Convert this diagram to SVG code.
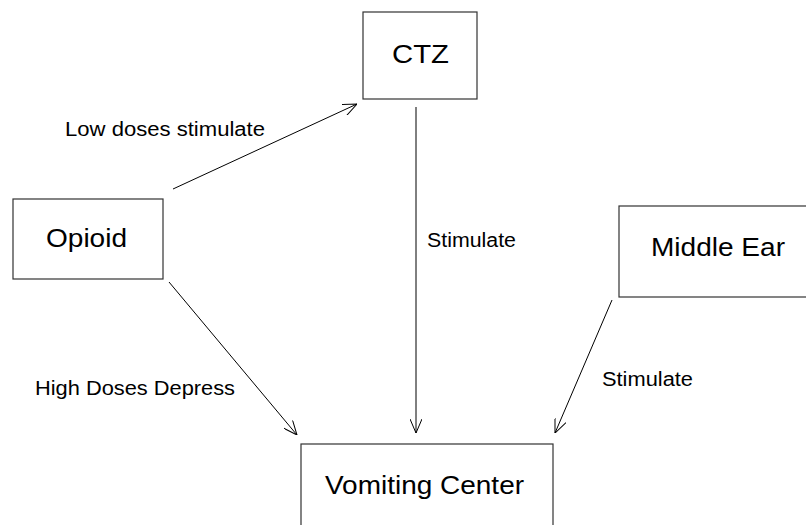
<svg xmlns="http://www.w3.org/2000/svg" width="806" height="525" viewBox="0 0 806 525">
  <style>
    .box { fill: #ffffff; stroke: #333333; stroke-width: 1.2; }
    .node-text { font-family: "Liberation Sans", Arial, sans-serif; font-size: 26px; fill: #000000; }
    .label { font-family: "Liberation Sans", Arial, sans-serif; font-size: 20px; fill: #000000; }
    .edge { fill: none; stroke: #000000; stroke-width: 1; marker-end: url(#arrow); }
  </style>
  <defs>
    <marker id="arrow" viewBox="0 0 14 12" refX="14" refY="6" markerWidth="14" markerHeight="12" orient="auto" markerUnits="userSpaceOnUse">
      <path d="M0,0 L14,6 L0,12" fill="none" stroke="#000000" stroke-width="1"/>
    </marker>
  </defs>
  <rect width="806" height="525" fill="#ffffff"/>

  <g id="ctz">
    <rect class="box" x="363" y="12" width="114" height="87"/>
    <text class="node-text" x="392" y="63" textLength="57" lengthAdjust="spacingAndGlyphs">CTZ</text>
  </g>
  <g id="opioid">
    <rect class="box" x="13" y="199" width="150" height="80"/>
    <text class="node-text" x="46" y="247" textLength="81" lengthAdjust="spacingAndGlyphs">Opioid</text>
  </g>
  <g id="middle-ear">
    <rect class="box" x="619" y="206" width="200" height="91"/>
    <text class="node-text" x="651" y="256" textLength="134" lengthAdjust="spacingAndGlyphs">Middle Ear</text>
  </g>
  <g id="vomiting-center">
    <rect class="box" x="301" y="444" width="252" height="95"/>
    <text class="node-text" x="325" y="494" textLength="199" lengthAdjust="spacingAndGlyphs">Vomiting Center</text>
  </g>

  <g id="connectors">
    <line class="edge" x1="173" y1="189" x2="357" y2="104"/>
    <line class="edge" x1="416" y1="107" x2="416" y2="433"/>
    <line class="edge" x1="169" y1="282" x2="297" y2="435"/>
    <line class="edge" x1="612" y1="300" x2="555" y2="433"/>
  </g>

  <g id="labels">
    <text class="label" x="65" y="136" textLength="200" lengthAdjust="spacingAndGlyphs">Low doses stimulate</text>
    <text class="label" x="427" y="247" textLength="89" lengthAdjust="spacingAndGlyphs">Stimulate</text>
    <text class="label" x="35" y="395" textLength="200" lengthAdjust="spacingAndGlyphs">High Doses Depress</text>
    <text class="label" x="602" y="386" textLength="91" lengthAdjust="spacingAndGlyphs">Stimulate</text>
  </g>
</svg>
